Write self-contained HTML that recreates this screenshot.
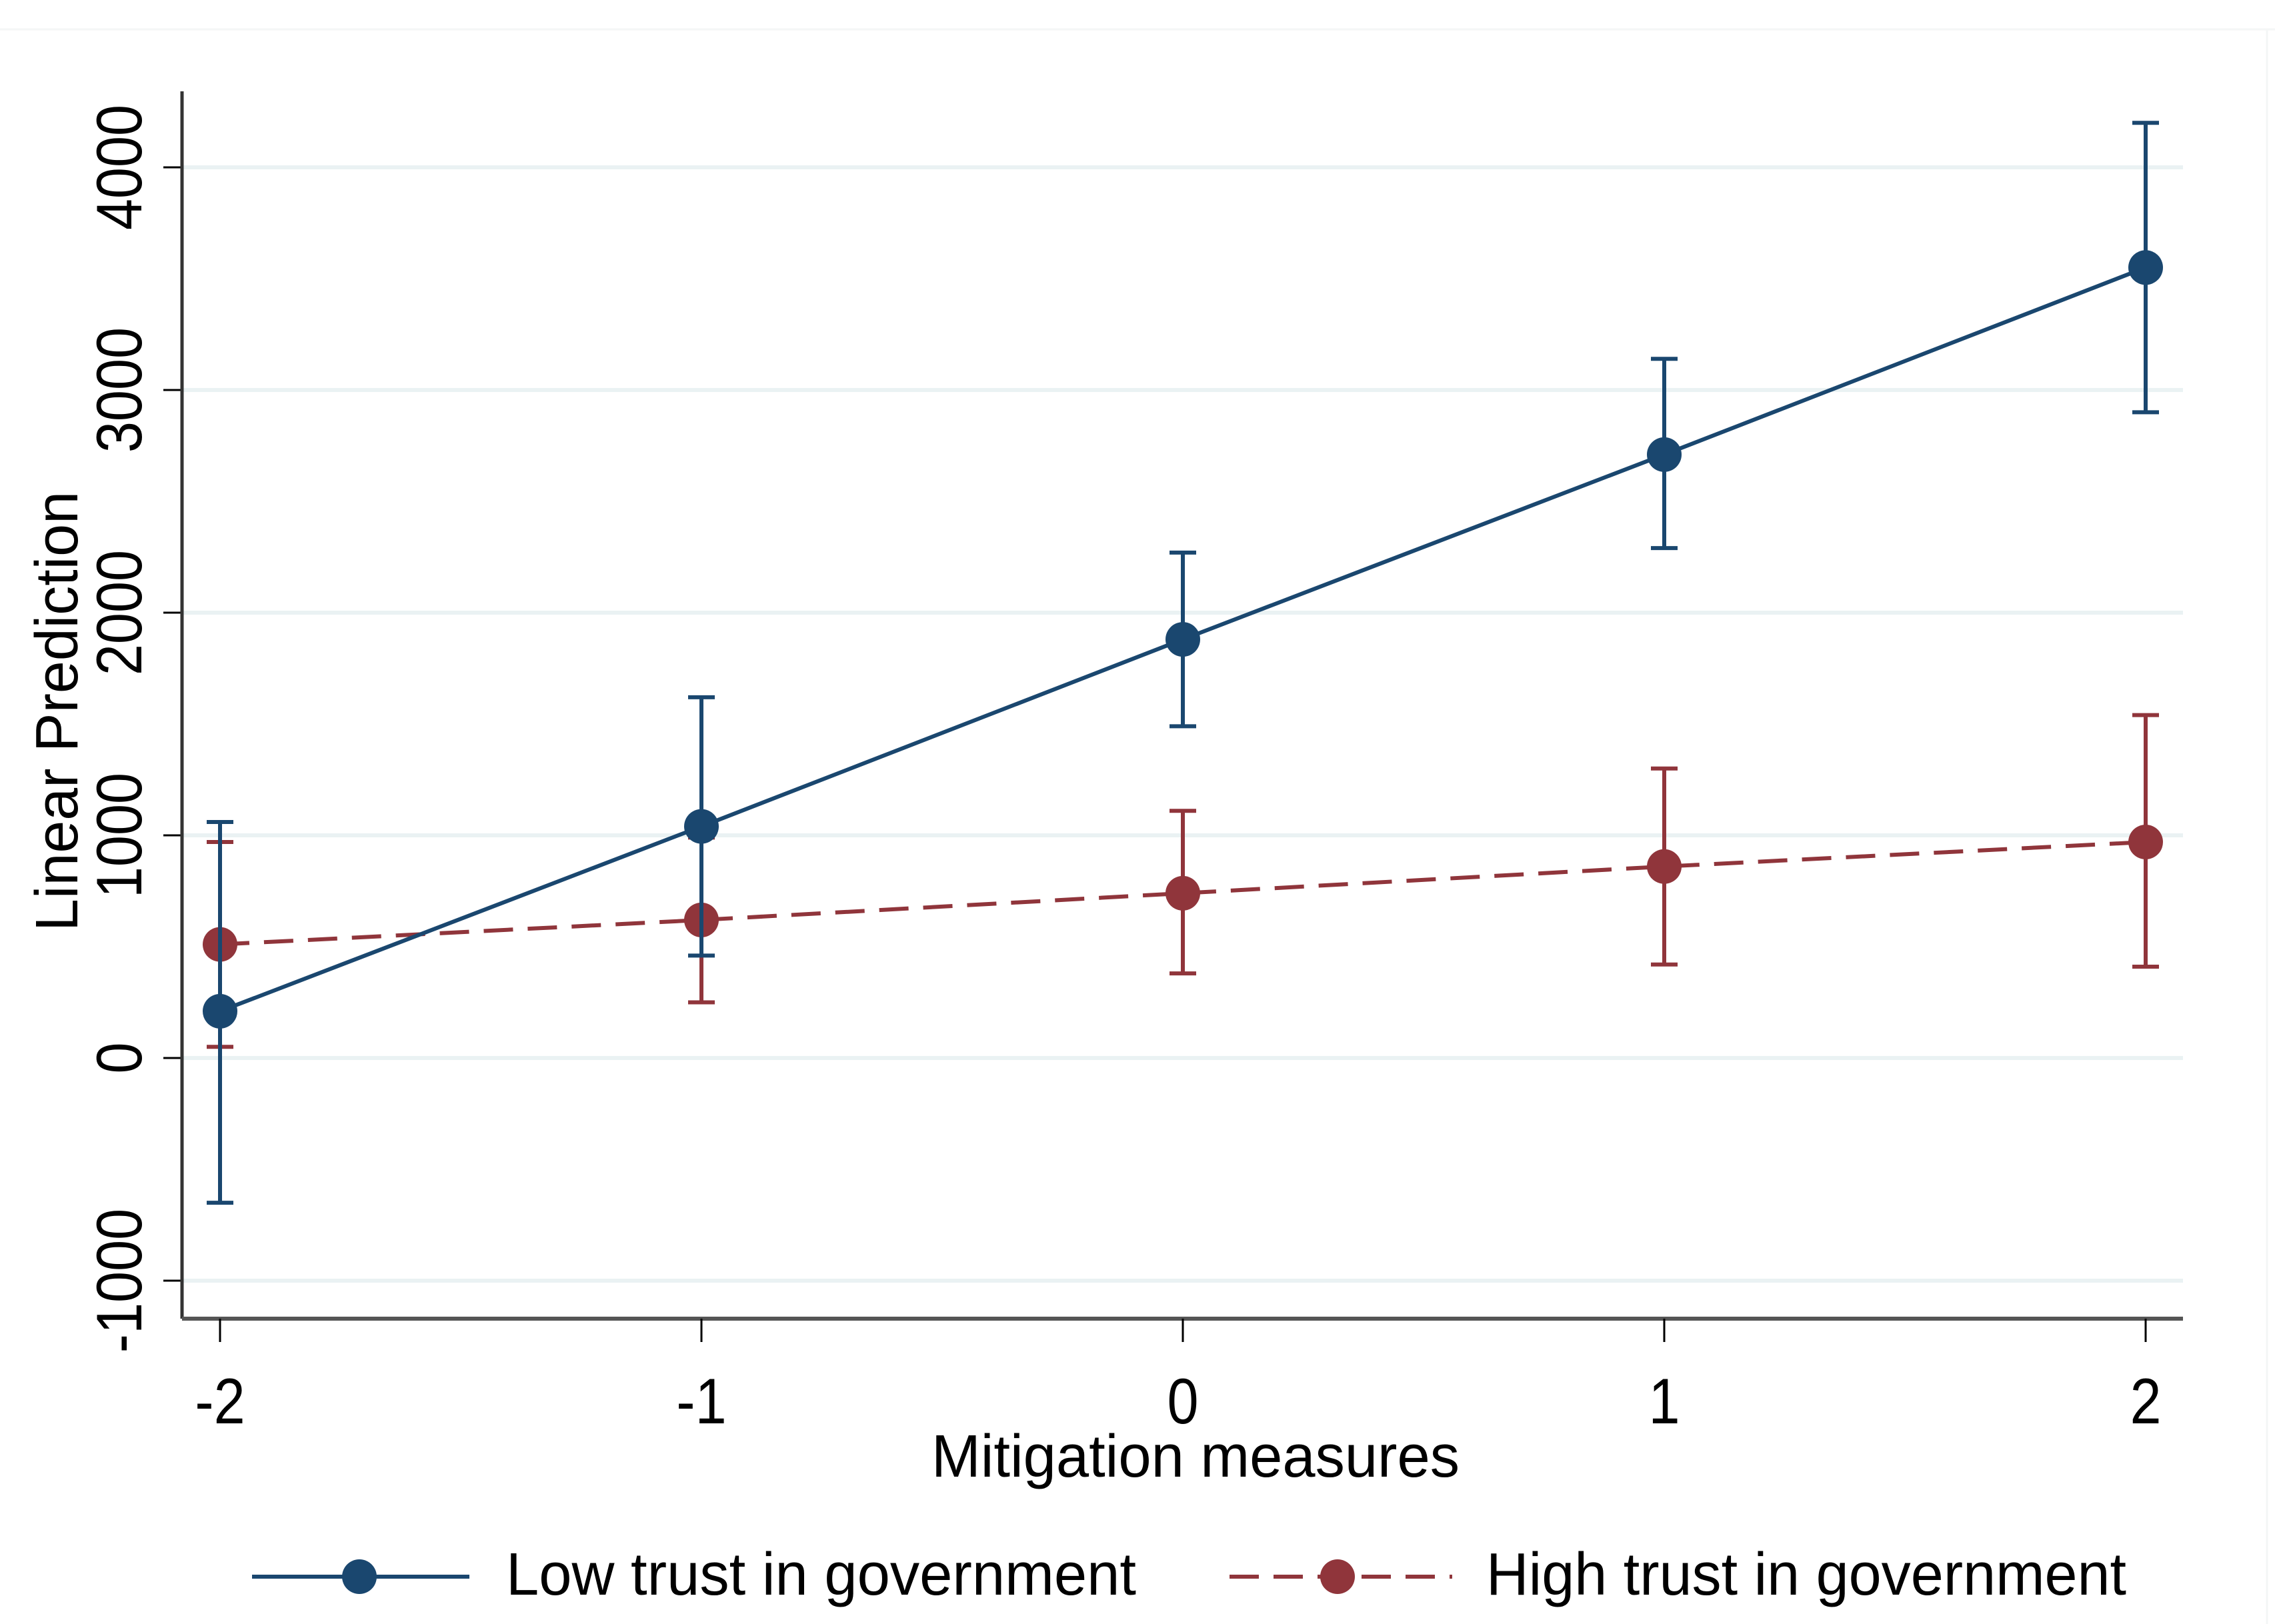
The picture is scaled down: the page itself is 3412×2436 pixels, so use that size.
<!DOCTYPE html>
<html><head><meta charset="utf-8"><style>html,body{margin:0;padding:0;background:#fff}svg{display:block}</style></head>
<body>
<svg id="chart" width="3412" height="2436" xmlns="http://www.w3.org/2000/svg" font-family="Liberation Sans, Arial, sans-serif">
<rect width="3412" height="2436" fill="#fff"/>
<line x1="0" y1="44" x2="3412" y2="44" stroke="#f4f6f6" stroke-width="3"/>
<line x1="3400" y1="44" x2="3400" y2="2436" stroke="#f4f6f6" stroke-width="3"/>
<g id="grid"></g>
<g id="axes"></g>
<g id="series"></g>
<g id="legend">
  <line x1="378" y1="2365" x2="704" y2="2365" stroke="#1a476f" stroke-width="6"/>
  <circle cx="539" cy="2365" r="26" fill="#1a476f"/>
  <text x="759" y="2392" font-size="90" textLength="945" lengthAdjust="spacingAndGlyphs">Low trust in government</text>
  <line x1="1844" y1="2365" x2="2178" y2="2365" stroke="#90353b" stroke-width="6" stroke-dasharray="44,22"/>
  <circle cx="2006" cy="2365" r="26" fill="#90353b"/>
  <text x="2229" y="2392" font-size="90" textLength="960" lengthAdjust="spacingAndGlyphs">High trust in government</text>
</g>
</svg>
<script>
const xCats = [-2, -1, 0, 1, 2];
const yTicks = [-1000, 0, 1000, 2000, 3000, 4000];
const lowEst = [210, 1040, 1880, 2710, 3550];
const lowLo = [-650, 460, 1490, 2290, 2900];
const lowHi = [1060, 1620, 2270, 3140, 4200];
const highEst = [510, 620, 740, 860, 970];
const highLo = [50, 250, 380, 420, 410];
const highHi = [970, 990, 1110, 1300, 1540];

const NS = 'http://www.w3.org/2000/svg';
const X = v => 330 + (v + 2) * 722;
const Y = v => 1587 - v * 0.334;
const L = 273, R = 3274, B = 1978, T = 137;
function mk(tag, attrs, parent, text) {
  const e = document.createElementNS(NS, tag);
  for (const k in attrs) e.setAttribute(k, attrs[k]);
  if (text !== undefined) e.textContent = text;
  parent.appendChild(e);
  return e;
}
const grid = document.getElementById('grid');
const axes = document.getElementById('axes');
const series = document.getElementById('series');

yTicks.forEach(t => {
  const g = mk('line', {x1: L, x2: R, y1: Y(t), y2: Y(t), stroke: '#eaf2f3', 'stroke-width': 6}, grid);
  
  
  const tk = mk('line', {x1: L - 28, x2: L, y1: Y(t), y2: Y(t), stroke: '#000', 'stroke-width': 3}, axes);
  
  
  const lb = mk('text', {x: 0, y: 0, 'font-size': 92, 'text-anchor': 'middle', transform: `translate(212,${Y(t)}) rotate(-90) scale(0.92,1.05)`}, axes, String(t));
  
  
});
const ya = mk('line', {x1: L, x2: L, y1: T, y2: B, stroke: '#333', 'stroke-width': 5}, axes);


const xa = mk('line', {x1: L, x2: R, y1: B, y2: B, stroke: '#555', 'stroke-width': 6}, axes);


xCats.forEach(c => {
  const tk = mk('line', {x1: X(c), x2: X(c), y1: B, y2: B + 35, stroke: '#000', 'stroke-width': 3}, axes);
  
  
  const lb = mk('text', {x: 0, y: 0, 'font-size': 92, 'text-anchor': 'middle', transform: `translate(${X(c)},2135) scale(0.92,1.05)`}, axes, String(c));
  
  
});
const xt = mk('text', {x: 1793, y: 2215, 'font-size': 90, 'text-anchor': 'middle', textLength: 792, lengthAdjust: 'spacingAndGlyphs'}, axes, 'Mitigation measures');


const yt = mk('text', {x: 0, y: 0, 'font-size': 90, 'text-anchor': 'middle', textLength: 660, lengthAdjust: 'spacingAndGlyphs', transform: 'translate(116,1067) rotate(-90)'}, axes, 'Linear Prediction');



function drawSeries(est, lo, hi, color, dash, name) {
  const g = mk('g', {}, series);
  
  
  xCats.forEach((c, i) => {
    const e = mk('path', {d: `M${X(c)-20},${Y(hi[i])}H${X(c)+20}M${X(c)},${Y(hi[i])}V${Y(lo[i])}M${X(c)-20},${Y(lo[i])}H${X(c)+20}`, stroke: color, 'stroke-width': 6, fill: 'none'}, g);
    
    
  });
  const pl = mk('polyline', {points: xCats.map((c, i) => X(c) + ',' + Y(est[i])).join(' '), stroke: color, 'stroke-width': 6, fill: 'none'}, g);
  if (dash) pl.setAttribute('stroke-dasharray', dash);
  
  
  xCats.forEach((c, i) => {
    const p = mk('circle', {cx: X(c), cy: Y(est[i]), r: 26, fill: color}, g);
    
    
  });
}
drawSeries(highEst, highLo, highHi, '#90353b', '44,22', 'high-trust');
drawSeries(lowEst, lowLo, lowHi, '#1a476f', null, 'low-trust');
</script>
</body></html>
